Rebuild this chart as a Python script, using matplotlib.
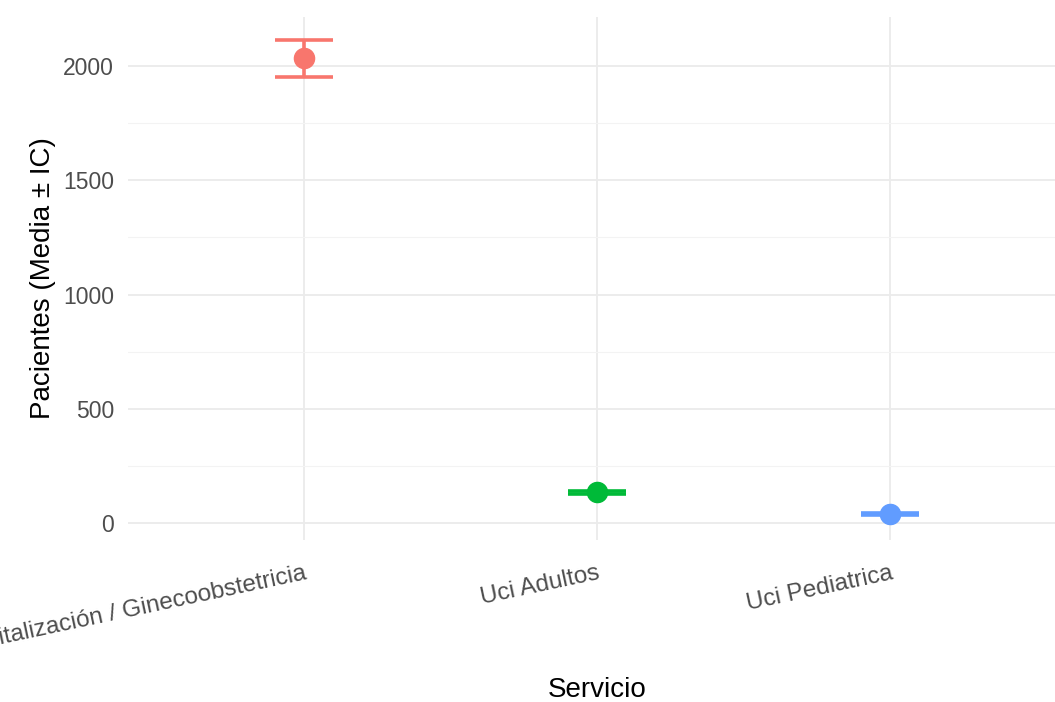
import matplotlib.pyplot as plt
import numpy as np

plt.rcParams['font.family'] = ['Liberation Sans', 'DejaVu Sans']

# mean patients per service with confidence interval
servicios = ['Hospitalización / Ginecoobstetricia', 'Uci Adultos', 'Uci Pediatrica']
media = [2035, 135, 39]
ic_inf = [1953, 128, 35]
ic_sup = [2113, 142, 43]
colores = ['#F8766D', '#00BA38', '#619CFF']

fig = plt.figure(figsize=(10.55, 7.02), dpi=100)
ax = fig.add_axes([128 / 1055, 1 - 540 / 702, 938 / 1055, 523 / 702])

x = np.arange(1, len(servicios) + 1)
for xi, m, lo, hi, c in zip(x, media, ic_inf, ic_sup, colores):
    ax.errorbar(xi, m, yerr=[[m - lo], [hi - m]], fmt='o', color=c,
                ecolor=c, elinewidth=2.6, capsize=21, capthick=2.6,
                markersize=14.5, zorder=3)

ax.set_xlim(0.4, 3.6)
ax.set_ylim(-74, 2214)
ax.set_xticks(x)
ax.set_xticklabels(servicios, rotation=12, ha='right', rotation_mode='anchor')
ax.set_yticks([0, 500, 1000, 1500, 2000])
ax.set_yticks([250, 750, 1250, 1750], minor=True)

ax.grid(True, which='major', color='#EBEBEB', linewidth=1.3)
ax.grid(True, which='minor', axis='y', color='#F3F3F3', linewidth=0.8)
ax.set_axisbelow(True)
for s in ax.spines.values():
    s.set_visible(False)
ax.tick_params(which='both', length=0, labelcolor='#4D4D4D')
ax.tick_params(axis='x', labelsize=17.5, pad=16)
ax.tick_params(axis='y', labelsize=16.5, pad=10)

ax.set_xlabel('Servicio', fontsize=20, va='baseline')
ax.xaxis.set_label_coords(0.5, -0.30)
ax.set_ylabel('Pacientes (Media ± IC)', fontsize=20, va='center')
ax.yaxis.set_label_coords(-0.091, 0.5)

fig.savefig('out.png', dpi=100)
